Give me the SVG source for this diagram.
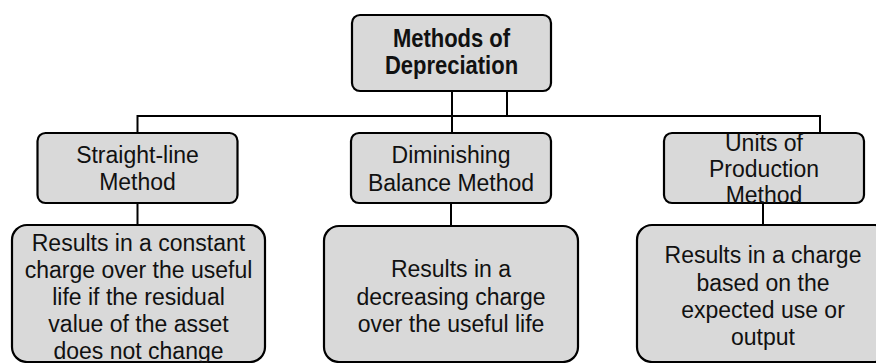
<svg xmlns="http://www.w3.org/2000/svg" width="876" height="363" viewBox="0 0 876 363">
<style>
.box{fill:#d9d9d9;stroke:#000;stroke-width:2.2}
.t{font-family:"Liberation Sans",Arial,sans-serif;font-size:23px;fill:#111;text-anchor:middle}
.b{font-weight:bold;font-size:25px}
.c{fill:none;stroke:#000;stroke-width:2}
</style>
<rect width="876" height="363" fill="#fff"/>
<g id="connectors">
<path class="c" d="M137.5 133V116H820V133"/>
<path class="c" d="M452 91V133"/>
<path class="c" d="M507 91V116"/>
<path class="c" d="M137.5 203V225"/>
<path class="c" d="M451 203V226"/>
<path class="c" d="M763 203V225"/>
</g>
<g id="root">
<rect class="box" x="352" y="15" width="199" height="76" rx="8"/>
<g transform="translate(451.5,0) scale(0.88,1)">
<text class="t b" x="0" y="47">Methods of</text>
<text class="t b" x="0" y="74">Depreciation</text>
</g>
</g>
<g id="straight">
<rect class="box" x="37.5" y="133" width="200" height="70" rx="8"/>
<text class="t" x="137.5" y="163">Straight-line</text>
<text class="t" x="137.5" y="190">Method</text>
</g>
<g id="diminishing">
<rect class="box" x="351" y="133" width="200" height="70" rx="8"/>
<text class="t" x="451" y="163">Diminishing</text>
<text class="t" x="451" y="190.5">Balance Method</text>
</g>
<g id="units">
<rect class="box" x="664" y="133" width="200" height="70" rx="8"/>
<text class="t" x="764" y="151">Units of</text>
<text class="t" x="764" y="177">Production</text>
<text class="t" x="764" y="203">Method</text>
</g>
<g id="result1">
<rect class="box" x="12" y="225" width="253" height="137" rx="15"/>
<text class="t" x="138.5" y="250.5">Results in a constant</text>
<text class="t" x="138.5" y="277.5">charge over the useful</text>
<text class="t" x="138.5" y="305">life if the residual</text>
<text class="t" x="138.5" y="332">value of the asset</text>
<text class="t" x="138.5" y="359">does not change</text>
</g>
<g id="result2">
<rect class="box" x="324" y="226" width="254" height="136" rx="15"/>
<text class="t" x="451" y="277">Results in a</text>
<text class="t" x="451" y="305">decreasing charge</text>
<text class="t" x="451" y="332">over the useful life</text>
</g>
<g id="result3">
<rect class="box" x="637" y="225" width="253" height="137" rx="15"/>
<text class="t" x="763" y="263">Results in a charge</text>
<text class="t" x="763" y="291">based on the</text>
<text class="t" x="763" y="318">expected use or</text>
<text class="t" x="763" y="345">output</text>
</g>
</svg>
